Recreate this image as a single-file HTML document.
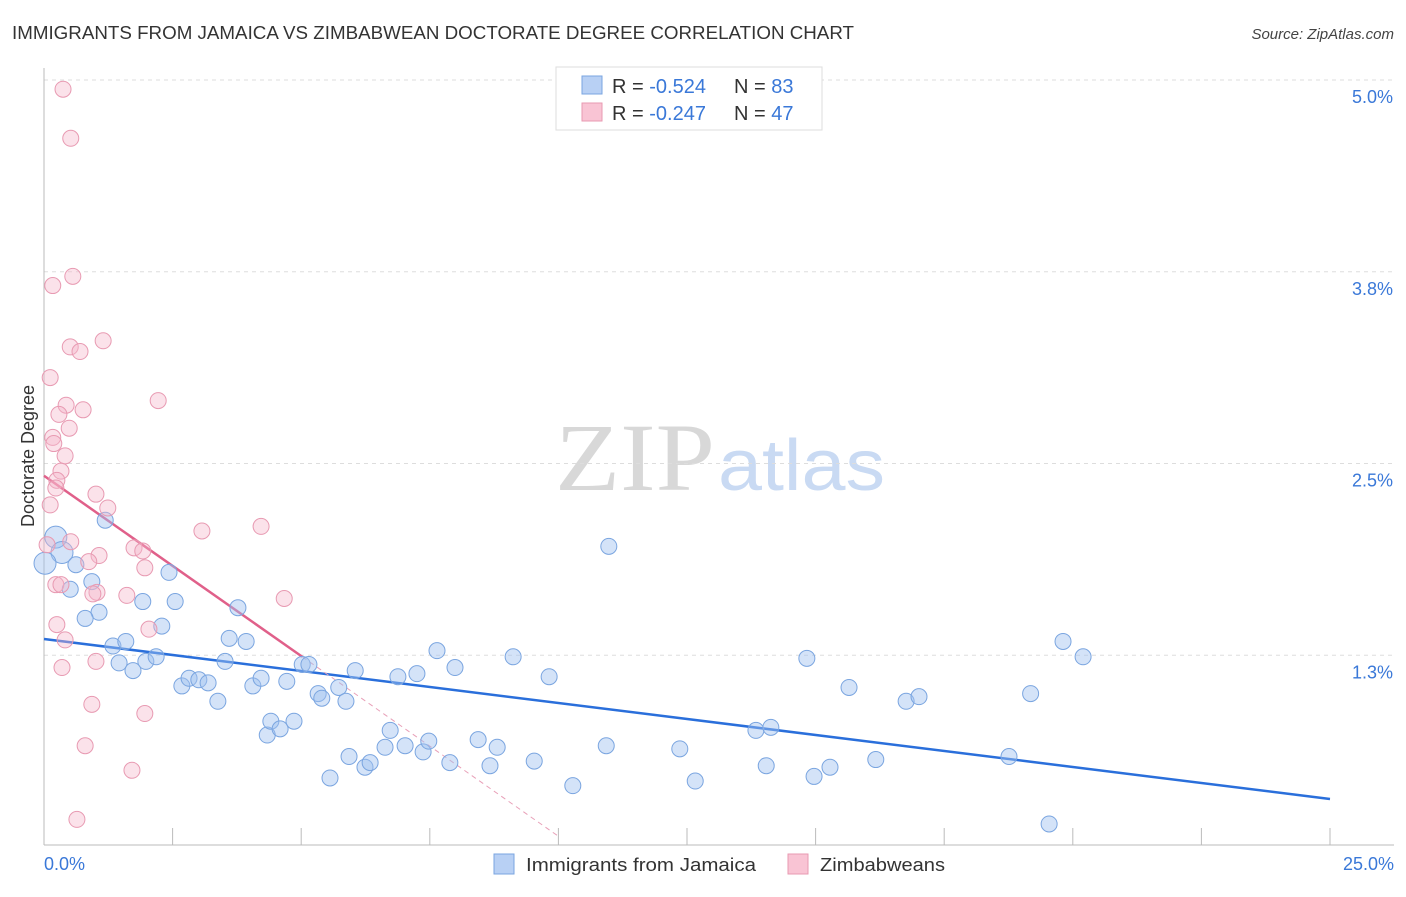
<!DOCTYPE html>
<html><head><meta charset="utf-8"><style>
body{margin:0;background:#fff;font-family:"Liberation Sans",sans-serif}
svg text{font-family:"Liberation Sans",sans-serif}
</style></head><body>
<svg id="chart" width="1406" height="892" viewBox="0 0 1406 892" xmlns="http://www.w3.org/2000/svg">
<text x="12" y="39" font-size="18" fill="#333" textLength="842" lengthAdjust="spacingAndGlyphs">IMMIGRANTS FROM JAMAICA VS ZIMBABWEAN DOCTORATE DEGREE CORRELATION CHART</text>
<text x="1394" y="39" font-size="15" fill="#444" font-style="italic" text-anchor="end">Source: ZipAtlas.com</text>
<g>
<text x="555" y="490" font-size="96" fill="#d8d8d8" style="font-family:'Liberation Serif',serif" textLength="160" lengthAdjust="spacingAndGlyphs">ZIP</text>
<text x="718" y="490" font-size="72" fill="#c9daf3" textLength="167" lengthAdjust="spacingAndGlyphs">atlas</text>
</g>
<g id="grid"></g>
<g id="axes"></g>
<text transform="translate(34,456) rotate(-90)" font-size="18" fill="#333" text-anchor="middle">Doctorate Degree</text>
<g id="trends"></g>
<g id="pts"></g>
<g>
<rect x="556" y="67" width="266" height="63" fill="#fff" stroke="#ddd"/>
<rect x="582" y="76" width="20" height="18" fill="#b8d0f4" stroke="#7aa5e0"/>
<rect x="582" y="103" width="20" height="18" fill="#f9c4d4" stroke="#e89ab2"/>
<text x="612" y="93" font-size="20" fill="#333">R = <tspan fill="#3a78d8">-0.524</tspan></text>
<text x="734" y="93" font-size="20" fill="#333">N = <tspan fill="#3a78d8">83</tspan></text>
<text x="612" y="120" font-size="20" fill="#333">R = <tspan fill="#3a78d8">-0.247</tspan></text>
<text x="734" y="120" font-size="20" fill="#333">N = <tspan fill="#3a78d8">47</tspan></text>
</g>
<g>
<rect x="494" y="854" width="20" height="20" fill="#b8d0f4" stroke="#7aa5e0"/>
<text x="526" y="871" font-size="18" fill="#333" textLength="230" lengthAdjust="spacingAndGlyphs">Immigrants from Jamaica</text>
<rect x="788" y="854" width="20" height="20" fill="#f9c4d4" stroke="#e89ab2"/>
<text x="820" y="871" font-size="18" fill="#333" textLength="125" lengthAdjust="spacingAndGlyphs">Zimbabweans</text>
</g>
</svg>
<script>
const yTickValues=[1.25,2.5,3.75,5.0];
const yTickLabels=["1.3%","2.5%","3.8%","5.0%"];
const xTickLabels=["0.0%","25.0%"];
const blueX=[0.23,0.35,0.02,0.62,0.93,0.51,1.19,1.07,0.80,1.34,1.59,1.46,1.73,1.98,2.18,1.92,2.43,2.55,2.29,2.68,2.82,3.01,3.19,3.38,3.52,3.60,3.77,3.93,4.06,4.22,4.34,4.41,4.59,4.72,4.86,5.02,5.15,5.33,5.40,5.56,5.73,5.87,5.93,6.05,6.24,6.34,6.63,6.73,6.88,7.02,7.25,7.37,7.48,7.64,7.89,7.99,8.44,8.67,8.81,9.12,9.53,9.82,10.28,10.93,10.98,12.36,12.66,13.84,14.04,14.13,14.83,14.97,15.28,15.65,16.17,16.76,17.01,18.76,19.18,19.54,19.81,20.20];
const blueY=[2.02,1.92,1.85,1.84,1.73,1.68,2.13,1.53,1.49,1.31,1.34,1.20,1.15,1.21,1.24,1.60,1.79,1.60,1.44,1.05,1.10,1.09,1.07,0.95,1.21,1.36,1.56,1.34,1.05,1.10,0.73,0.82,0.77,1.08,0.82,1.19,1.19,1.00,0.97,0.45,1.04,0.95,0.59,1.15,0.52,0.55,0.65,0.76,1.11,0.66,1.13,0.62,0.69,1.28,0.55,1.17,0.70,0.53,0.65,1.24,0.56,1.11,0.40,0.66,1.96,0.64,0.43,0.76,0.53,0.78,1.23,0.46,0.52,1.04,0.57,0.95,0.98,0.59,1.00,0.15,1.34,1.24];
const pinkX=[0.37,0.52,0.56,0.17,0.51,0.70,1.15,0.12,0.43,0.76,2.22,0.29,0.49,0.17,0.19,0.33,0.41,0.25,0.23,1.01,1.24,0.12,3.07,4.22,0.52,0.06,1.75,1.92,1.07,0.87,1.96,0.23,0.33,1.03,0.95,1.61,4.67,0.25,2.04,0.41,1.01,0.35,0.93,1.96,0.80,1.71,0.64];
const pinkY=[4.94,4.62,3.72,3.66,3.26,3.23,3.30,3.06,2.88,2.85,2.91,2.82,2.73,2.67,2.63,2.45,2.55,2.39,2.34,2.30,2.21,2.23,2.06,2.09,1.99,1.97,1.95,1.93,1.90,1.86,1.82,1.71,1.71,1.66,1.65,1.64,1.62,1.45,1.42,1.35,1.21,1.17,0.93,0.87,0.66,0.50,0.18];
const blueTrend=[1.356,0.313];
const pinkTrend=[2.42,-0.235];
const NS="http://www.w3.org/2000/svg";
const X0=44,X1=1330,Y0=847,PXY=153.4;
function sx(v){return X0+(X1-X0)*v/25;}
function sy(v){return Y0-v*PXY;}
function mk(tag,attrs,parent){const e=document.createElementNS(NS,tag);for(const k in attrs)e.setAttribute(k,attrs[k]);document.getElementById(parent).appendChild(e);return e;}
yTickValues.forEach((v,i)=>{
  const l=mk('line',{x1:44,x2:1394,y1:sy(v),y2:sy(v),stroke:'#ddd','stroke-dasharray':'4,4'},'grid');
  
  
  const t=mk('text',{x:1393,y:sy(v)+23,'font-size':18,fill:'#3a78d8','text-anchor':'end'},'grid');
  t.textContent=yTickLabels[i];
  
  
});
mk('line',{x1:44,x2:44,y1:68,y2:845,stroke:'#bbb'},'axes');
mk('line',{x1:44,x2:1394,y1:845,y2:845,stroke:'#bbb'},'axes');
for(let i=0;i<=10;i++){const tk=mk('line',{x1:sx(i*2.5),x2:sx(i*2.5),y1:828,y2:845,stroke:'#bbb'},'axes');
  
  }
const xl0=mk('text',{x:44,y:870,'font-size':18,fill:'#3a78d8'},'axes');xl0.textContent=xTickLabels[0];


const xl1=mk('text',{x:1394,y:870,'font-size':18,fill:'#3a78d8','text-anchor':'end'},'axes');xl1.textContent=xTickLabels[1];


blueX.forEach((x,i)=>{const c=mk('circle',{cx:sx(x),cy:sy(blueY[i]),r:(x<0.4&&blueY[i]>1.8)?11:8,fill:'rgba(160,192,240,0.45)',stroke:'#7aa5e0','stroke-width':1},'pts');
  
  });
pinkX.forEach((x,i)=>{const c=mk('circle',{cx:sx(x),cy:sy(pinkY[i]),r:8,fill:'rgba(246,182,202,0.4)',stroke:'#e89ab2','stroke-width':1},'pts');
  
  });
const bl=mk('line',{x1:sx(0),y1:sy(blueTrend[0]),x2:sx(25),y2:sy(blueTrend[1]),stroke:'#2a6fdb','stroke-width':2.5},'trends');


const pl=mk('line',{x1:sx(0),y1:sy(pinkTrend[0]),x2:sx(5.02),y2:sy(pinkTrend[0]+pinkTrend[1]*5.02),stroke:'#e0608a','stroke-width':2.5},'trends');


const pd=mk('line',{x1:sx(5.02),y1:sy(pinkTrend[0]+pinkTrend[1]*5.02),x2:sx(10),y2:sy(pinkTrend[0]+pinkTrend[1]*10),stroke:'#e8a0b8','stroke-width':1,'stroke-dasharray':'5,4'},'trends');


</script>
</body></html>
